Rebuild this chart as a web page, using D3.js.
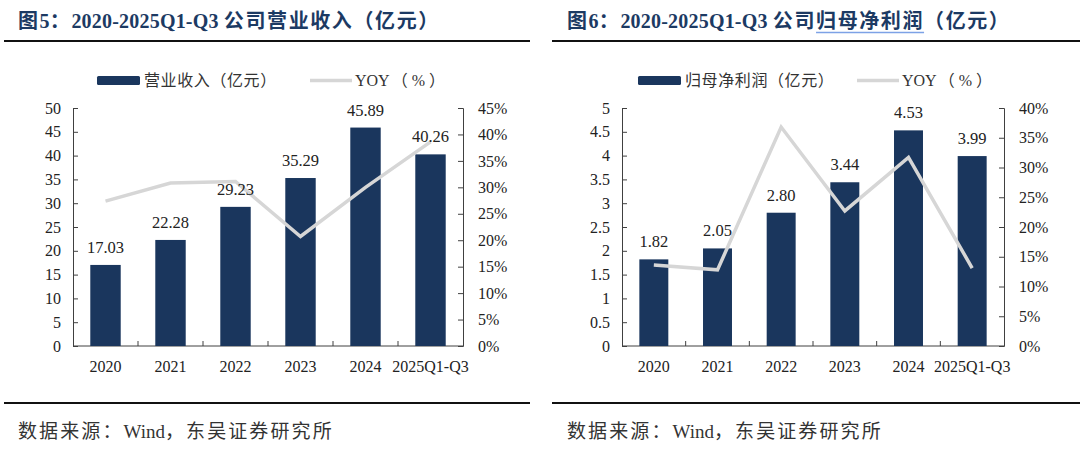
<!DOCTYPE html>
<html><head><meta charset="utf-8">
<script src="https://cdn.jsdelivr.net/npm/d3@7"></script>
<style>
html,body{margin:0;padding:0;background:#fff;}
svg{display:block;}
text{font-family:"Liberation Serif","Times New Roman","Noto Sans CJK SC",serif;}
</style></head>
<body>
<svg id="chart" width="1080" height="450"></svg>
<script>
// ---- data ----
const categories = ["2020","2021","2022","2023","2024","2025Q1-Q3"];
const revenue = [17.03, 22.28, 29.23, 35.29, 45.89, 40.26];
const revenueYoy = [0.274, 0.308, 0.311, 0.207, 0.300, 0.386];
const profit = [1.82, 2.05, 2.80, 3.44, 4.53, 3.99];
const profitYoy = [0.136, 0.128, 0.368, 0.227, 0.317, 0.131];
const revenueTicks = [0,5,10,15,20,25,30,35,40,45,50];
const revenuePctTicks = [0,0.05,0.10,0.15,0.20,0.25,0.30,0.35,0.40,0.45];
const profitTicks = [0,0.5,1,1.5,2,2.5,3,3.5,4,4.5,5];
const profitPctTicks = [0,0.05,0.10,0.15,0.20,0.25,0.30,0.35,0.40];
const titles = ["图5：2020-2025Q1-Q3 公司营业收入（亿元）", "图6：2020-2025Q1-Q3 公司归母净利润（亿元）"];
const underlined = "归母净利润";
const barLegend = ["营业收入（亿元）", "归母净利润（亿元）"];
const lineLegend = "YOY（%）";
const sourceText = "数据来源：Wind，东吴证券研究所";

const BAR = "#1a365d", LINE = "#d6d6d6", NAVY = "#1c3a63", AXIS = "#404040";
const svg = d3.select("#chart");
svg.append("rect").attr("width",1080).attr("height",450).attr("fill","#fff");

// text with separate letter-spacing for ASCII runs and CJK runs
function spaced(sel, str, latinSp, cjkSp){
  const runs = str.match(/[\x00-\x7F]+|[^\x00-\x7F]+/g);
  runs.forEach(r=>{
    const ascii = /^[\x00-\x7F]+$/.test(r);
    sel.append("tspan").attr("letter-spacing", ascii ? latinSp : cjkSp).text(r);
  });
  return sel;
}

function drawPanel(o){
  const g = svg.append("g");
  // title
  const t = g.append("text").attr("x",o.titleX).attr("y",28)
    .attr("font-size",20).attr("font-weight","bold").attr("fill",NAVY);
  spaced(t, o.title, 0.2, 1.6);
  if (o.underline){
    const idx = o.title.indexOf(o.underline);
    const node = t.node();
    const sx = node.getStartPositionOfChar(idx).x;
    const ex = node.getEndPositionOfChar(idx + o.underline.length - 1).x;
    g.append("line").attr("x1",sx).attr("x2",ex).attr("y1",32.5).attr("y2",32.5)
      .attr("stroke","#7da2e6").attr("stroke-width",1.6);
  }
  // rules
  g.append("line").attr("x1",o.ruleX1).attr("x2",o.ruleX2).attr("y1",41).attr("y2",41)
    .attr("stroke","#111").attr("stroke-width",2.2);
  g.append("line").attr("x1",o.ruleX1).attr("x2",o.ruleX2).attr("y1",403).attr("y2",403)
    .attr("stroke","#111").attr("stroke-width",2.2);
  // source
  const s = g.append("text").attr("x",o.titleX).attr("y",438).attr("font-size",19).attr("fill","#333");
  spaced(s, sourceText, 0, 2.1);

  const x = d3.scaleBand().domain(categories).range([o.x0,o.x1]).paddingInner(o.pad).paddingOuter(o.pad/2);
  const y = d3.scaleLinear().domain([0,o.yMax]).range([346,108]);
  const y2 = d3.scaleLinear().domain([0,o.pMax]).range([346,108]);

  // axes
  const ax = g.append("g").attr("transform",`translate(${o.x0},0)`)
    .call(d3.axisLeft(y).tickValues(o.yTicks).tickSize(-5).tickPadding(12).tickFormat(d3.format("~g")));
  const ax2 = g.append("g").attr("transform",`translate(${o.x1},0)`)
    .call(d3.axisRight(y2).tickValues(o.pTicks).tickSize(-5).tickPadding(15).tickFormat(d3.format(".0%")));
  const axb = g.append("g").attr("transform","translate(0,346)")
    .call(d3.axisBottom(x).tickSize(0).tickPadding(14.6));
  axb.select(".domain").remove();
  [ax,ax2,axb].forEach(a=>{
    a.selectAll("text").attr("font-size",16).attr("fill","#222")
      .attr("font-family","'Liberation Serif','Times New Roman',serif");
    a.selectAll("line").attr("stroke",AXIS);
    a.select(".domain").attr("stroke",AXIS);
  });
  // baseline + boundary ticks
  g.append("line").attr("x1",o.x0).attr("x2",o.x1).attr("y1",346).attr("y2",346).attr("stroke",AXIS);
  g.selectAll(".bt").data(d3.range(1,categories.length)).join("line")
    .attr("x1",i=>x.range()[0]+i*x.step()).attr("x2",i=>x.range()[0]+i*x.step())
    .attr("y1",346).attr("y2",341).attr("stroke",AXIS);

  // bars
  g.selectAll(".bar").data(o.values).join("rect")
    .attr("x",(d,i)=>x(categories[i])).attr("width",x.bandwidth())
    .attr("y",d=>y(d)).attr("height",d=>y(0)-y(d)).attr("fill",BAR);
  // line
  g.append("path").datum(o.yoy)
    .attr("d",d3.line().x((d,i)=>x(categories[i])+x.bandwidth()/2).y(d=>y2(d)))
    .attr("fill","none").attr("stroke",LINE).attr("stroke-width",3.5).attr("stroke-linejoin","miter");
  // labels
  g.selectAll(".lbl").data(o.values).join("text")
    .attr("x",(d,i)=>x(categories[i])+x.bandwidth()/2).attr("y",d=>y(d)-12)
    .attr("text-anchor","middle").attr("font-size",16.5).attr("fill","#222")
    .text(d=>d3.format(".2f")(d));

  // legend
  g.append("rect").attr("x",o.legX).attr("y",76).attr("width",43).attr("height",9).attr("rx",1.5).attr("fill",BAR);
  const lt = g.append("text").attr("x",o.legX+47).attr("y",86).attr("font-size",16).attr("fill","#333");
  spaced(lt, o.barLegend, 0, 0.6);
  g.append("line").attr("x1",o.legLineX).attr("x2",o.legLineX+42).attr("y1",80.5).attr("y2",80.5)
    .attr("stroke",LINE).attr("stroke-width",3.5);
  const yt = g.append("text").attr("x",o.legLineX+45).attr("y",86).attr("font-size",16).attr("fill","#333");
  spaced(yt, lineLegend, 0, 0);
  yt.select("tspan:nth-child(2)").attr("dx",2);
  yt.select("tspan:nth-child(3)").attr("dx",4);
  yt.select("tspan:nth-child(4)").attr("dx",4);
  return g;
}

drawPanel({title:titles[0], titleX:18, ruleX1:4, ruleX2:530, x0:73, x1:463, pad:0.532,
  yMax:50, pMax:0.45, yTicks:revenueTicks, pTicks:revenuePctTicks, values:revenue, yoy:revenueYoy,
  barLegend:barLegend[0], legX:97, legLineX:310});
drawPanel({title:titles[1], titleX:567, ruleX1:552, ruleX2:1080, x0:622, x1:1004, pad:0.545,
  yMax:5, pMax:0.40, yTicks:profitTicks, pTicks:profitPctTicks, values:profit, yoy:profitYoy,
  barLegend:barLegend[1], legX:638, legLineX:857, underline:underlined});
</script>
</body></html>
